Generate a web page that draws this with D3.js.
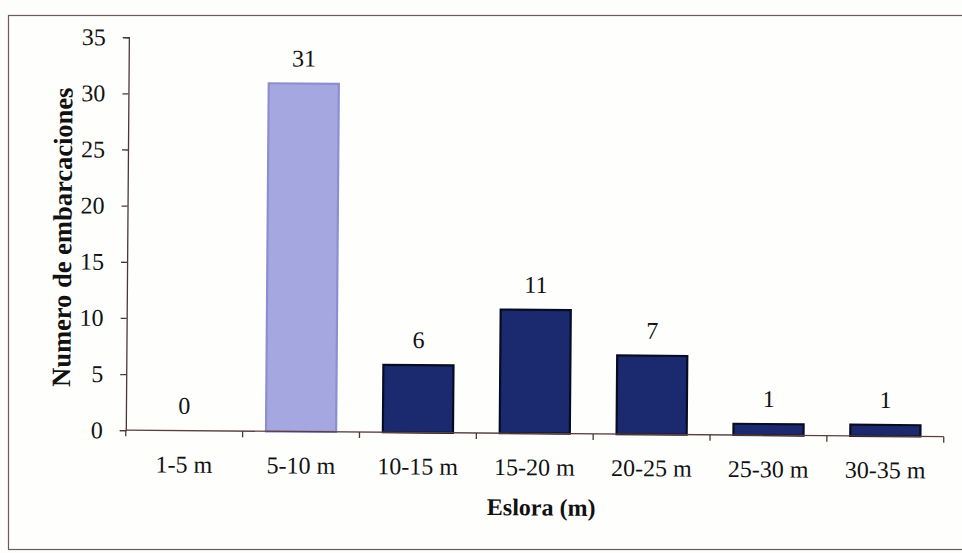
<!DOCTYPE html>
<html>
<head>
<meta charset="utf-8">
<script src="https://cdn.jsdelivr.net/npm/d3@7"></script>
<style>
  html, body { margin: 0; padding: 0; background: #fdfdfb; }
  svg { display: block; }
  svg text { font-family: "Liberation Serif", serif; fill: #111; }
</style>
</head>
<body>
<svg id="chart" width="962" height="553"></svg>
<script>
// Vessel counts by length class
const categories = ["1-5 m", "5-10 m", "10-15 m", "15-20 m", "20-25 m", "25-30 m", "30-35 m"];
const counts = [0, 31, 6, 11, 7, 1, 1];
const yTicks = [0, 5, 10, 15, 20, 25, 30, 35];
const highlighted = ["5-10 m"];

const FONT = "Liberation Serif, serif";
const svg = d3.select("#chart");
const W = 962, H = 553;

// outer frame of the chart area
svg.append("rect")
  .attr("x", 8.5).attr("y", 15.5)
  .attr("width", 970).attr("height", 534)
  .attr("fill", "#fefefd")
  .attr("stroke", "#6a5a5a").attr("stroke-width", 1.2);

const margin = { left: 127, right: 17, top: 40, bottom: 120 };
const plotW = W - margin.left - margin.right;
const plotH = H - margin.top - margin.bottom;

const g = svg.append("g")
  .attr("transform", `rotate(0.45 ${W / 2} ${H / 2}) translate(${margin.left},${margin.top})`);

const x = d3.scaleBand()
  .domain(categories)
  .range([0, plotW])
  .paddingInner(0.4)
  .paddingOuter(0.2);

const y = d3.scaleLinear().domain([0, 35]).range([plotH, 0]);

// bars
g.selectAll("rect.bar")
  .data(categories)
  .join("rect")
  .attr("class", "bar")
  .attr("x", d => x(d))
  .attr("y", (d, i) => y(counts[i]))
  .attr("width", x.bandwidth())
  .attr("height", (d, i) => plotH - y(counts[i]))
  .attr("fill", d => highlighted.includes(d) ? "#a5a8e0" : "#1b2a6e")
  .attr("stroke", d => highlighted.includes(d) ? "#8c8ed0" : "#080c22")
  .attr("stroke-width", 2.2);

// value labels
g.selectAll("text.val")
  .data(categories)
  .join("text")
  .attr("class", "val")
  .attr("x", d => x(d) + x.bandwidth() / 2)
  .attr("y", (d, i) => y(counts[i]) - 17)
  .attr("text-anchor", "middle")
  .attr("font-family", FONT)
  .attr("font-size", 24)
  .text((d, i) => counts[i]);

// y axis
const yAxis = g.append("g")
  .call(d3.axisLeft(y).tickValues(yTicks).tickSize(6).tickPadding(17));
yAxis.attr("font-family", FONT);
yAxis.selectAll("text").attr("font-size", 24).attr("font-family", FONT).attr("fill", "#111");
yAxis.select(".domain").attr("stroke", "#4a3838").attr("stroke-width", 1.3);
yAxis.selectAll(".tick line").attr("stroke", "#4a3838").attr("stroke-width", 1.3);

// x axis: line with tick marks between categories
const xAxisG = g.append("g").attr("transform", `translate(0,${plotH})`);
xAxisG.append("line")
  .attr("x1", 0).attr("x2", plotW)
  .attr("stroke", "#5a4040").attr("stroke-width", 1.3);
const boundaries = d3.range(categories.length + 1).map(i => i * x.step());
xAxisG.selectAll("line.tk")
  .data(boundaries)
  .join("line")
  .attr("class", "tk")
  .attr("x1", d => d).attr("x2", d => d)
  .attr("y1", 0).attr("y2", 6)
  .attr("stroke", "#4a3838").attr("stroke-width", 1.3);
xAxisG.selectAll("text.cat")
  .data(categories)
  .join("text")
  .attr("class", "cat")
  .attr("x", d => x(d) + x.bandwidth() / 2)
  .attr("y", 42)
  .attr("text-anchor", "middle")
  .attr("font-family", FONT)
  .attr("font-size", 24)
  .text(d => d);

// axis titles
g.append("text")
  .attr("x", 416).attr("y", plotH + 82)
  .attr("text-anchor", "middle")
  .attr("font-family", FONT)
  .attr("font-size", 24)
  .attr("font-weight", "bold")
  .text("Eslora (m)");

g.append("text")
  .attr("transform", `translate(-56,${plotH / 2 + 4}) rotate(-90)`)
  .attr("text-anchor", "middle")
  .attr("font-family", FONT)
  .attr("font-size", 26.5)
  .attr("font-weight", "bold")
  .text("Numero de embarcaciones");
</script>
</body>
</html>
